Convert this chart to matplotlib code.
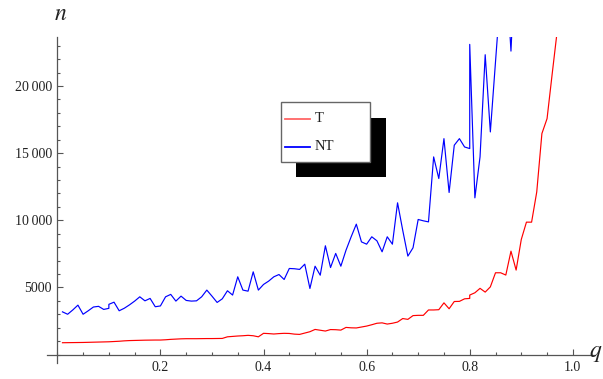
import matplotlib
matplotlib.use('Agg')
import matplotlib.pyplot as plt
from matplotlib.patches import Rectangle
from matplotlib.lines import Line2D
from matplotlib.ticker import MultipleLocator, FixedLocator

SERIF = ['Liberation Serif', 'DejaVu Serif']
plt.rcParams['font.family'] = SERIF
plt.rcParams['mathtext.fontset'] = 'stix'

# sampled q values (0.1 and 0.8 were sampled twice)
q = [0.01, 0.02, 0.03, 0.04, 0.05, 0.06, 0.07, 0.08, 0.09, 0.10, 0.10,
     0.11, 0.12, 0.13, 0.14, 0.15, 0.16, 0.17, 0.18, 0.19, 0.20,
     0.21, 0.22, 0.23, 0.24, 0.25, 0.26, 0.27, 0.28, 0.29, 0.30,
     0.31, 0.32, 0.33, 0.34, 0.35, 0.36, 0.37, 0.38, 0.39, 0.40,
     0.41, 0.42, 0.43, 0.44, 0.45, 0.46, 0.47, 0.48, 0.49, 0.50,
     0.51, 0.52, 0.53, 0.54, 0.55, 0.56, 0.57, 0.58, 0.59, 0.60,
     0.61, 0.62, 0.63, 0.64, 0.65, 0.66, 0.67, 0.68, 0.69, 0.70,
     0.71, 0.72, 0.73, 0.74, 0.75, 0.76, 0.77, 0.78, 0.79, 0.80, 0.80,
     0.81, 0.82, 0.83, 0.84, 0.85, 0.86, 0.87, 0.88, 0.89, 0.90,
     0.91, 0.92, 0.93, 0.94, 0.95, 0.96, 0.97, 0.98, 0.99]

n_T = [880, 885, 890, 895, 900, 910, 920, 930, 940, 950, 950,
       970, 990, 1020, 1040, 1050, 1060, 1070, 1075, 1080, 1080,
       1100, 1130, 1150, 1170, 1180, 1180, 1180, 1185, 1190, 1190,
       1195, 1200, 1320, 1350, 1380, 1400, 1430, 1400, 1320, 1580,
       1560, 1530, 1560, 1580, 1570, 1520, 1500, 1600, 1700, 1870,
       1810, 1750, 1860, 1850, 1820, 2020, 1990, 1980, 2050, 2120,
       2220, 2330, 2360, 2270, 2330, 2420, 2680, 2620, 2900, 2920,
       2920, 3320, 3320, 3340, 3850, 3410, 3950, 3960, 4150, 4180, 4430,
       4600, 4930, 4650, 5040, 6090, 6090, 5920, 7700, 6290, 8570,
       9860, 9860, 12110, 16460, 17570, 20920, 24200, 32000, 45000]

n_NT = [3180, 3000, 3320, 3680, 3000, 3260, 3540, 3590, 3360, 3440, 3740,
        3900, 3260, 3450, 3700, 3980, 4300, 4000, 4180, 3560, 3620,
        4300, 4480, 3980, 4350, 4030, 3980, 4000, 4300, 4800, 4350,
        3880, 4150, 4750, 4430, 5790, 4800, 4720, 6160, 4800, 5220,
        5470, 5790, 5960, 5590, 6410, 6390, 6340, 6730, 4920, 6580,
        5910, 8100, 6480, 7530, 6580, 7770, 8770, 9710, 8390, 8220,
        8770, 8470, 7650, 8770, 8220, 11300, 9260, 7330, 7950, 10060,
        9960, 9880, 14720, 13110, 16080, 12070, 15590, 16080, 15460, 15340, 23100,
        11670, 14720, 22330, 16580, 21800, 27000, 29000, 22600, 31000, 34000,
        36000, 39000, 43000, 48000, 55000, 63000, 74000, 90000, 115000]

series = ['T', 'NT']
colors = ['#ff0000', '#0000ff']

x_major = [0.2, 0.4, 0.6, 0.8, 1.0]
x_labels = ['0.2', '0.4', '0.6', '0.8', '1.0']
y_major = [5000, 10000, 15000, 20000]
y_labels = ['5000', '10\u2009000', '15\u2009000', '20\u2009000']

W, H = 603, 379
fig = plt.figure(figsize=(W / 100, H / 100), dpi=100)
ax = fig.add_axes([47 / W, 1 - 363 / H, 548 / W, 326 / H])

ax.plot(q, n_T, color=colors[0], lw=0.85)
ax.plot(q, n_NT, color=colors[1], lw=0.85)

ax.set_xlim(-0.02, 1.043)
ax.set_ylim(-630, 23650)

axis_col = '#555555'
for side in ('top', 'right'):
    ax.spines[side].set_visible(False)
ax.spines['left'].set_position(('data', 0))
ax.spines['bottom'].set_position(('data', 0))
for side in ('left', 'bottom'):
    ax.spines[side].set_color(axis_col)
    ax.spines[side].set_linewidth(0.9)

ax.xaxis.set_major_locator(FixedLocator(x_major))
ax.set_xticklabels(x_labels)
ax.xaxis.set_minor_locator(MultipleLocator(0.05))
ax.yaxis.set_major_locator(FixedLocator(y_major))
ax.set_yticklabels(y_labels)
ax.yaxis.set_minor_locator(MultipleLocator(1000))
ax.tick_params(which='both', direction='in', color=axis_col, width=0.8,
               labelsize=10, labelcolor='#222222')
ax.tick_params(which='major', length=4.5)
ax.tick_params(which='minor', length=2.5)
ax.tick_params(axis='x', pad=5)
ax.tick_params(axis='y', pad=4)

fig.text(54 / W, 1 - 15 / H, r'$n$', fontsize=17, ha='left',
         va='center', color='#222222')
fig.text(589 / W, 1 - 354 / H, r'$q$', fontsize=17, ha='left',
         va='center', color='#222222')

# legend box with a hard black drop shadow
def fx(px):
    return px / W


def fy(py):
    return 1 - py / H


fig.patches.append(Rectangle((fx(296), fy(177)), fx(90), 59 / H,
                             transform=fig.transFigure, facecolor='black',
                             edgecolor='none', zorder=5))
fig.patches.append(Rectangle((fx(281), fy(162)), fx(89), 60 / H,
                             transform=fig.transFigure, facecolor='white',
                             edgecolor='#666666', lw=1.0, zorder=6))
for label, col, py, lc in zip(series, colors, [118.5, 146.5],
                              ['#ff6666', '#0000ff']):
    fig.lines.append(Line2D([fx(285), fx(310)], [fy(py), fy(py)],
                            transform=fig.transFigure, color=lc, lw=1.3,
                            zorder=7))
    fig.text(fx(315), fy(py), label, fontsize=10.5, ha='left', va='center',
             color='#222222', zorder=8)

fig.savefig('out.png', dpi=100)
